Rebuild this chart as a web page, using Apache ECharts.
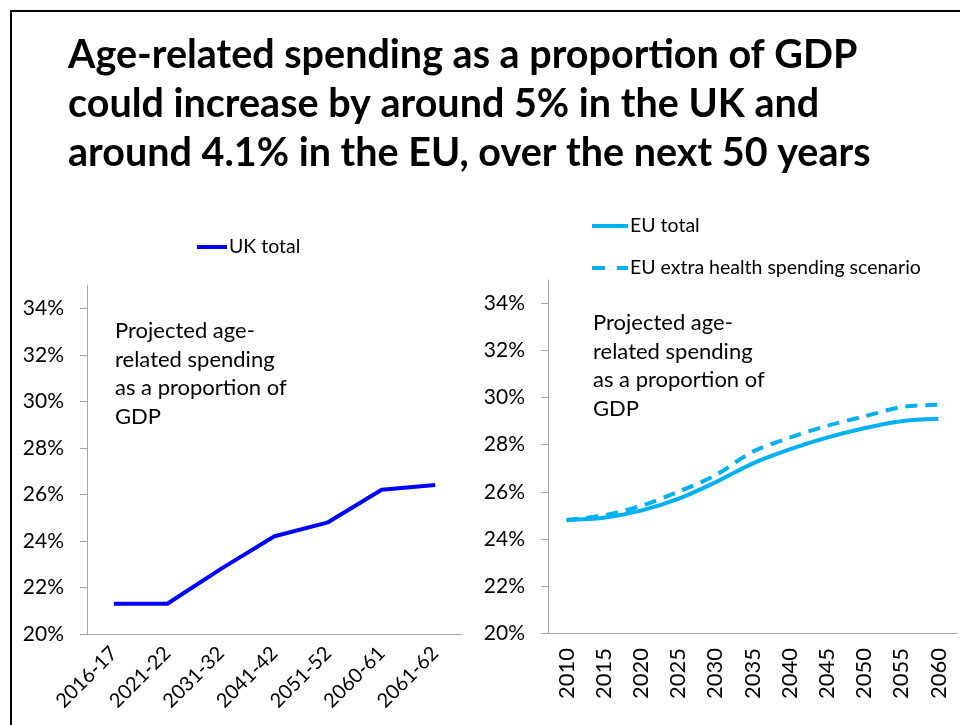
<!DOCTYPE html>
<html>
<head>
<meta charset="utf-8">
<script src="https://cdn.jsdelivr.net/npm/echarts@6/dist/echarts.min.js"></script>
<style>
  html, body { margin: 0; padding: 0; background: #fff; }
  #chart { width: 960px; height: 725px; }
</style>
</head>
<body>
<div id="chart"></div>
<script>
// UK projection periods and age-related spending (% of GDP)
const ukPeriods = ['2016-17', '2021-22', '2031-32', '2041-42', '2051-52', '2060-61', '2061-62'];
const ukTotal = [21.3, 21.3, 22.8, 24.2, 24.8, 26.2, 26.4];

// EU projection years and spending (% of GDP)
const euYears = ['2010', '2015', '2020', '2025', '2030', '2035', '2040', '2045', '2050', '2055', '2060'];
const euTotal = [24.8, 24.9, 25.2, 25.7, 26.4, 27.2, 27.8, 28.3, 28.7, 29.0, 29.1];
const euExtraHealth = [24.8, 25.0, 25.4, 26.0, 26.7, 27.7, 28.3, 28.8, 29.2, 29.6, 29.7];

// Percentage ticks shown on both value axes
const pctTicks = [20, 22, 24, 26, 28, 30, 32, 34];

const titleText = 'Age-related spending as a proportion of GDP\ncould increase by around 5% in the UK and\naround 4.1% in the EU, over the next 50 years';
const noteText = 'Projected age-\nrelated spending\nas a proportion of\nGDP';

const FONT = 'Lato';
const AXIS_GREY = '#A6A6A6';
const UK_BLUE = '#0000FF';
const EU_CYAN = '#00B0F0';
const DASH = [12, 8];
const LEGEND_DASH = [13, 12];

function valueAxis(gridIndex) {
  return {
    type: 'value', gridIndex, min: 20, max: 35, interval: 1,
    axisLine: { show: true, lineStyle: { color: AXIS_GREY, width: 1 } },
    axisTick: { show: true, length: 7, lineStyle: { color: AXIS_GREY }, customValues: pctTicks },
    axisLabel: {
      margin: 23, color: '#000', fontFamily: FONT, fontSize: 21,
      customValues: pctTicks,
      formatter: v => v + '%'
    },
    splitLine: { show: false }
  };
}

const legendText = { fontFamily: FONT, fontSize: 19.5, lineHeight: 20, color: '#000', padding: [0, 0, 0, -3] };

const chart = echarts.init(document.getElementById('chart'), null, { renderer: 'canvas' });

chart.setOption({
  animation: false,
  backgroundColor: '#fff',
  title: {
    text: titleText,
    left: 63, top: 26,
    textStyle: { fontFamily: FONT, fontWeight: 'bold', fontSize: 39.5, lineHeight: 49, color: '#000' }
  },
  legend: [
    {
      data: ['UK total'], left: 190, top: 232,
      itemWidth: 30, itemHeight: 14, itemGap: 0,
      itemStyle: { opacity: 0 },
      lineStyle: { width: 4 },
      textStyle: legendText
    },
    {
      data: [
        { name: 'EU total' },
        { name: 'EU extra health spending scenario', lineStyle: { type: LEGEND_DASH, width: 4 } }
      ],
      orient: 'vertical', left: 585, top: 211,
      itemWidth: 36, itemHeight: 14, itemGap: 22,
      itemStyle: { opacity: 0 },
      lineStyle: { width: 4 },
      textStyle: legendText
    }
  ],
  grid: [
    { left: 87, right: 498, top: 285, bottom: 91 },
    { left: 548, right: 3, top: 280, bottom: 92 }
  ],
  xAxis: [
    {
      type: 'category', gridIndex: 0, data: ukPeriods, boundaryGap: true,
      axisLine: { lineStyle: { color: AXIS_GREY } },
      axisTick: { length: 6, lineStyle: { color: AXIS_GREY } },
      axisLabel: { rotate: 45, margin: 16, color: '#000', fontFamily: FONT, fontSize: 20, interval: 0 }
    },
    {
      type: 'category', gridIndex: 1, data: euYears, boundaryGap: true,
      axisLine: { lineStyle: { color: AXIS_GREY } },
      axisTick: { length: 6, lineStyle: { color: AXIS_GREY } },
      axisLabel: { rotate: 90, margin: 15, color: '#000', fontFamily: FONT, fontSize: 22, interval: 0 }
    }
  ],
  yAxis: [valueAxis(0), valueAxis(1)],
  series: [
    {
      name: 'UK total', type: 'line', xAxisIndex: 0, yAxisIndex: 0,
      data: ukTotal, symbol: 'none', color: UK_BLUE,
      lineStyle: { color: UK_BLUE, width: 4 }
    },
    {
      name: 'EU total', type: 'line', xAxisIndex: 1, yAxisIndex: 1,
      data: euTotal, symbol: 'none', smooth: 0.3, color: EU_CYAN,
      lineStyle: { color: EU_CYAN, width: 4 }
    },
    {
      name: 'EU extra health spending scenario', type: 'line', xAxisIndex: 1, yAxisIndex: 1,
      data: euExtraHealth, symbol: 'none', smooth: 0.3, color: EU_CYAN,
      lineStyle: { color: EU_CYAN, width: 4, type: DASH }
    }
  ],
  graphic: [
    {
      type: 'polyline', silent: true,
      shape: { points: [[11, 725], [11, 11], [960, 11]] },
      style: { stroke: '#000', lineWidth: 2, fill: null }
    },
    {
      type: 'text', left: 115, top: 317, silent: true,
      style: { text: noteText, fontFamily: FONT, fontSize: 22, lineHeight: 28.5, fill: '#000' }
    },
    {
      type: 'text', left: 593, top: 309, silent: true,
      style: { text: noteText, fontFamily: FONT, fontSize: 22, lineHeight: 28.5, fill: '#000' }
    }
  ]
});
</script>
</body>
</html>
